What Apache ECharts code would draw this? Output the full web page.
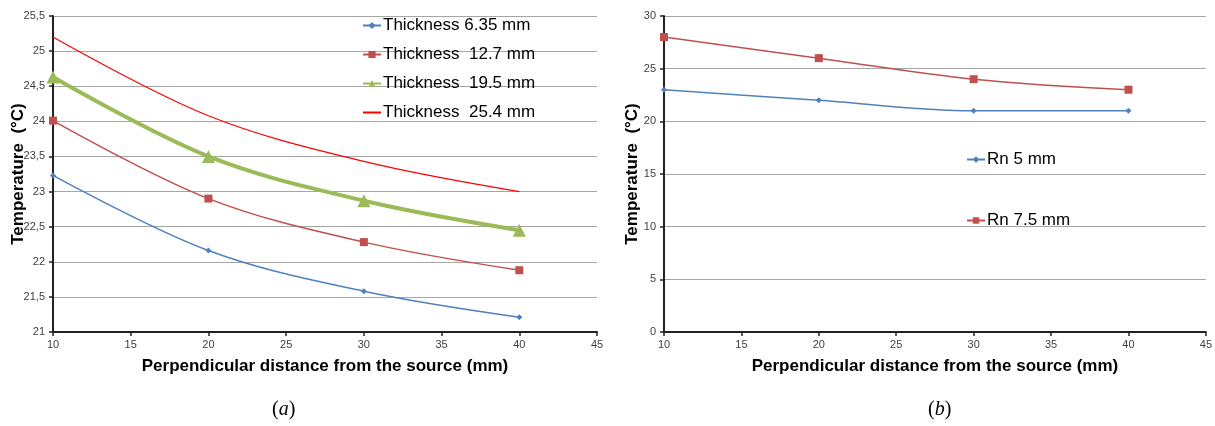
<!DOCTYPE html>
<html>
<head>
<meta charset="utf-8">
<title>Temperature vs distance</title>
<script src="https://cdn.jsdelivr.net/npm/echarts@6/dist/echarts.min.js"></script>
<style>
  html, body { margin: 0; padding: 0; background: #fff; }
  #main { width: 1215px; height: 426px; }
</style>
</head>
<body>
<div id="main"></div>
<script>
// x positions (mm)
var distance = [10, 20, 30, 40];

// panel (a) - plate thickness
var thicknessNames = ['Thickness 6.35 mm', 'Thickness  12.7 mm', 'Thickness  19.5 mm', 'Thickness  25.4 mm'];
var thick635 = [23.23, 22.16, 21.58, 21.21];
var thick127 = [24.01, 22.90, 22.28, 21.88];
var thick195 = [24.63, 23.50, 22.87, 22.45];
var thick254 = [25.20, 24.08, 23.43, 23.00];

// panel (b) - Rn
var rnNames = ['Rn 5 mm', 'Rn 7.5 mm'];
var rn5 = [23, 22, 21, 21];
var rn75 = [28, 26, 24, 23];

function pairs(ys) {
  var out = [];
  for (var i = 0; i < distance.length; i++) out.push([distance[i], ys[i]]);
  return out;
}

var labelStyle = { color: '#404040', fontSize: 11, fontFamily: 'Liberation Sans, Arial, sans-serif' };
var nameStyle = { color: '#000', fontSize: 17, fontWeight: 'bold', fontFamily: 'Liberation Sans, Arial, sans-serif' };
var axisLine = { show: true, lineStyle: { color: '#222', width: 2 } };
var legendText = { color: '#000', fontSize: 17, fontFamily: 'Liberation Sans, Arial, sans-serif', padding: [0, 0, 0, -3] };

function xAxis(idx) {
  return {
    type: 'value', gridIndex: idx, min: 10, max: 45, interval: 5,
    name: 'Perpendicular distance from the source (mm)',
    nameLocation: 'middle', nameGap: 26, nameTextStyle: nameStyle,
    nameMoveOverlap: false,
    axisLine: axisLine,
    axisTick: { show: true, length: 4, lineStyle: { color: '#222', width: 1.5 } },
    axisLabel: Object.assign({ margin: 7 }, labelStyle),
    splitLine: { show: false }
  };
}

function yAxis(idx, min, max, step, gap) {
  return {
    type: 'value', gridIndex: idx, min: min, max: max, interval: step,
    name: 'Temperature  (°C)',
    nameLocation: 'middle', nameRotate: 90, nameGap: gap, nameTextStyle: nameStyle,
    nameMoveOverlap: false,
    axisLine: axisLine,
    axisTick: { show: true, length: 4, lineStyle: { color: '#222', width: 1.5 } },
    axisLabel: Object.assign({ margin: 8, formatter: function (v) { return String(v).replace('.', ','); } }, labelStyle),
    splitLine: { show: true, lineStyle: { color: '#a6a6a6', width: 1 } }
  };
}

function line(name, ys, color, width, symbol, size, xi) {
  return {
    name: name, type: 'line', xAxisIndex: xi, yAxisIndex: xi,
    data: pairs(ys), smooth: 0.35,
    symbol: symbol, symbolSize: size, showSymbol: symbol !== 'none',
    lineStyle: { color: color, width: width },
    itemStyle: { color: color },
    emphasis: { disabled: true }
  };
}

var chart = echarts.init(document.getElementById('main'));
chart.setOption({
  animation: false,
  grid: [
    { left: 53, right: 618, top: 16, bottom: 94 },
    { left: 664, right: 7, top: 16, bottom: 94 }
  ],
  xAxis: [xAxis(0), xAxis(1)],
  yAxis: [yAxis(0, 21, 25.5, 0.5, 26), yAxis(1, 0, 30, 5, 23)],
  legend: [
    {
      data: [
        { name: thicknessNames[0] },
        { name: thicknessNames[1] },
        { name: thicknessNames[2] },
        { name: thicknessNames[3], itemStyle: { opacity: 0 } }
      ],
      orient: 'vertical', left: 357, top: 12,
      itemWidth: 18, itemHeight: 9, itemGap: 12,
      textStyle: legendText
    },
    {
      data: rnNames, orient: 'vertical', left: 961, top: 146,
      itemWidth: 18, itemHeight: 8, itemGap: 44,
      textStyle: legendText
    }
  ],
  graphic: [
    {
      type: 'text', left: 272, top: 400,
      style: {
        text: '({a|a})', fill: '#000', font: '20px "Liberation Serif", serif',
        rich: { a: { fontStyle: 'italic', fontSize: 20, fontFamily: 'Liberation Serif' } }
      }
    },
    {
      type: 'text', left: 928, top: 400,
      style: {
        text: '({a|b})', fill: '#000', font: '20px "Liberation Serif", serif',
        rich: { a: { fontStyle: 'italic', fontSize: 20, fontFamily: 'Liberation Serif' } }
      }
    }
  ],
  series: [
    line(thicknessNames[0], thick635, '#4f81bd', 1.5, 'diamond', 6, 0),
    line(thicknessNames[1], thick127, '#c0504d', 1.5, 'rect', 8, 0),
    line(thicknessNames[2], thick195, '#9bbb59', 4, 'triangle', 13, 0),
    line(thicknessNames[3], thick254, '#ff0000', 1.2, 'none', 0, 0),
    line(rnNames[0], rn5, '#4f81bd', 1.5, 'diamond', 6, 1),
    line(rnNames[1], rn75, '#c0504d', 1.5, 'rect', 8, 1)
  ]
});
</script>
</body>
</html>
